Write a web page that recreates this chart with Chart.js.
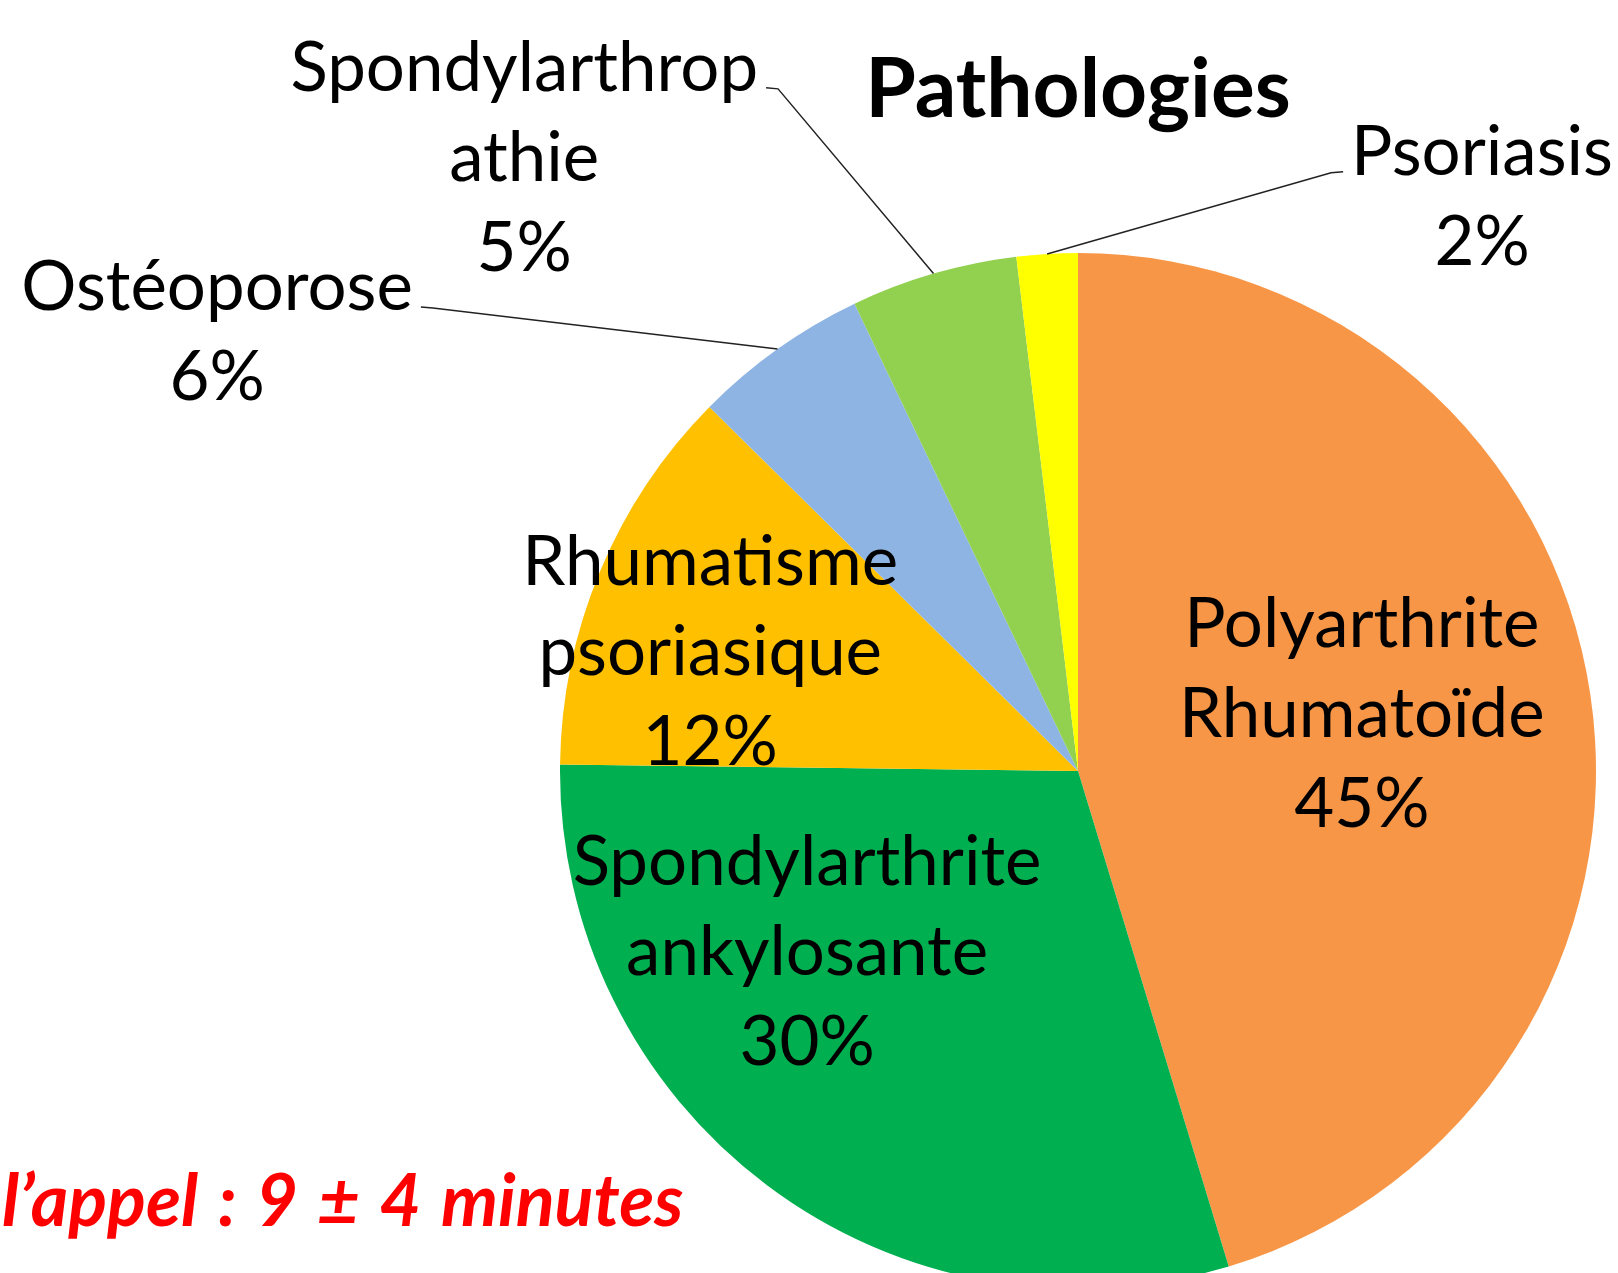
<!DOCTYPE html>
<html>
<head>
<meta charset="utf-8">
<script src="https://cdn.jsdelivr.net/npm/chart.js@4.4.1/dist/chart.umd.min.js"></script>
<style>
  html, body { margin: 0; padding: 0; background: #fff; overflow: hidden; }
  #wrap { position: relative; width: 1618px; height: 1300px; }
  #note {
    position: absolute; left: 2px; top: 1162px;
    color: #ff0000; font: italic bold 72px Lato; line-height: 72px;
    word-spacing: 4px; white-space: nowrap;
  }
</style>
</head>
<body>
<div id="wrap"><canvas id="chart"></canvas></div>
<div id="note">l’appel : 9 ± 4 minutes</div>
<script>
const categories = [
  'Polyarthrite Rhumatoïde',
  'Spondylarthrite ankylosante',
  'Rhumatisme psoriasique',
  'Ostéoporose',
  'Spondylarthropathie',
  'Psoriasis',
];
const shares = [45.3, 29.9, 12.2, 5.5, 5.2, 1.9];
const sliceColors = ['#F79646', '#00B050', '#FFC000', '#8EB4E3', '#92D050', '#FFFF00'];
// how each label wraps, as in the original slide
const labelLines = [
  ['Polyarthrite', 'Rhumatoïde'],
  ['Spondylarthrite', 'ankylosante'],
  ['Rhumatisme', 'psoriasique'],
  ['Ostéoporose'],
  ['Spondylarthrop', 'athie'],
  ['Psoriasis'],
];

// label anchor (first line baseline) in units of the pie radius, from its centre
const placement = [
  { x: 0.548, y: -0.239 },
  { x: -0.523, y: 0.220 },
  { x: -0.710, y: -0.359 },
  { x: -1.662, y: -0.890, leader: 1 },
  { x: -1.069, y: -1.313, leader: 1 },
  { x: 0.780, y: -1.151, leader: -1 },
];
const lineGap = 90;

const sliceLabels = {
  id: 'sliceLabels',
  afterDatasetsDraw(chart) {
    const ctx = chart.ctx;
    const meta = chart.getDatasetMeta(0);
    ctx.save();
    ctx.font = '69px Lato';
    ctx.fillStyle = '#000';
    ctx.strokeStyle = '#222';
    ctx.lineWidth = 1.5;
    ctx.textAlign = 'center';
    ctx.textBaseline = 'alphabetic';
    meta.data.forEach((arc, i) => {
      const { x, y, outerRadius, startAngle, endAngle } =
        arc.getProps(['x', 'y', 'outerRadius', 'startAngle', 'endAngle'], true);
      const p = placement[i];
      const tx = x + p.x * outerRadius;
      const ty = y + p.y * outerRadius;
      const lines = [...labelLines[i], Math.round(shares[i]) + '%'];
      lines.forEach((t, k) => ctx.fillText(t, tx, ty + k * lineGap));
      if (p.leader) {
        const w = ctx.measureText(lines[0]).width;
        const mid = (startAngle + endAngle) / 2;
        const ex = x + Math.cos(mid) * outerRadius;
        const ey = y + Math.sin(mid) * outerRadius;
        const sx = tx + p.leader * (w / 2 + 8);
        const sy = ty - 3;
        ctx.beginPath();
        ctx.moveTo(sx, sy);
        ctx.lineTo(sx + p.leader * 12, sy + 1);
        ctx.lineTo(ex, ey);
        ctx.stroke();
      }
    });
    ctx.restore();
  }
};

const chart = new Chart(document.getElementById('chart'), {
  type: 'pie',
  data: {
    labels: categories,
    datasets: [{
      data: shares,
      backgroundColor: sliceColors,
      borderWidth: 0,
    }]
  },
  options: {
    responsive: true,
    maintainAspectRatio: false,
    animation: false,
    layout: { padding: { left: 560, right: 22, top: 41, bottom: 11 } },
    plugins: {
      legend: { display: false },
      tooltip: { enabled: false },
      title: {
        display: true,
        text: 'Pathologies',
        color: '#000',
        font: { family: 'Lato', size: 82, weight: 'bold', lineHeight: 1.2 },
        padding: { top: 0, bottom: 113.6 },
      },
    },
  },
  plugins: [sliceLabels],
});
</script>
</body>
</html>
